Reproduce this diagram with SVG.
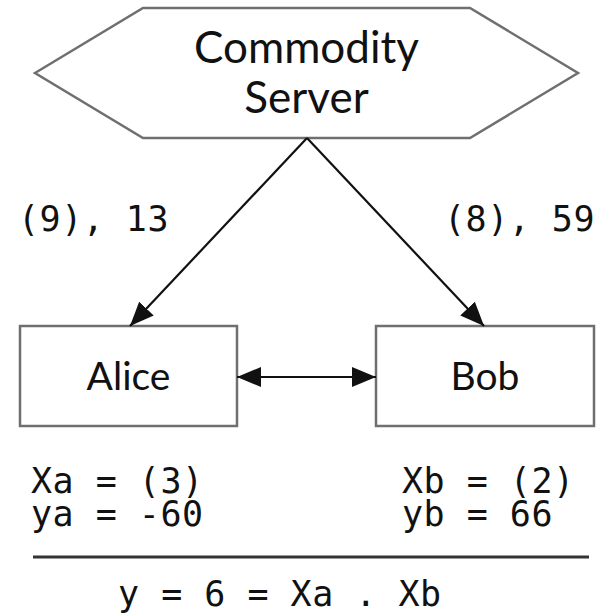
<svg xmlns="http://www.w3.org/2000/svg" width="604" height="614" viewBox="0 0 604 614">
  <style>
    .shape { fill: #ffffff; stroke: #6f6f6f; stroke-width: 2.5; }
    .label { font-family: Lato, "Open Sans", "Liberation Sans", sans-serif; font-weight: 400; fill: #111111; text-anchor: middle; }
    .mono { font-family: "DejaVu Sans Mono", "Liberation Mono", monospace; font-size: 35px; letter-spacing: 0.5px; fill: #111111; }
    .conn { stroke: #111111; stroke-width: 2.2; fill: none; }
  </style>
  <defs>
    <marker id="arrow" markerUnits="userSpaceOnUse" markerWidth="26" markerHeight="22" refX="24" refY="10" orient="auto-start-reverse" viewBox="0 0 26 22">
      <path d="M0,0 L24,10 L0,20 z" fill="#111111"/>
    </marker>
  </defs>
  <rect width="604" height="614" fill="#ffffff"/>

  <g id="server">
    <polygon class="shape" points="35,73 143,8 470,8 578,73 470,138 143,138"/>
    <text class="label" x="306.5" y="63" font-size="44">Commodity</text>
    <text class="label" x="306.5" y="113" font-size="44">Server</text>
  </g>

  <g id="alice">
    <rect class="shape" x="20" y="326" width="217" height="100"/>
    <text class="label" x="128.5" y="390" font-size="39">Alice</text>
  </g>

  <g id="bob">
    <rect class="shape" x="376" y="326" width="218" height="100"/>
    <text class="label" x="485" y="390" font-size="39">Bob</text>
  </g>

  <g id="connectors">
    <line class="conn" x1="307" y1="138" x2="130" y2="326" marker-end="url(#arrow)"/>
    <line class="conn" x1="307" y1="138" x2="484" y2="326" marker-end="url(#arrow)"/>
    <line class="conn" x1="237" y1="377" x2="376" y2="377" marker-start="url(#arrow)" marker-end="url(#arrow)"/>
  </g>

  <g id="labels">
    <text class="mono" x="18" y="231">(9), 13</text>
    <text class="mono" x="444" y="231">(8), 59</text>
    <text class="mono"><tspan x="31" y="493">Xa = (3)</tspan><tspan x="31" y="526">ya = -60</tspan></text>
    <text class="mono"><tspan x="402" y="493">Xb = (2)</tspan><tspan x="402" y="526">yb = 66</tspan></text>
    <line x1="33" y1="557" x2="589" y2="557" stroke="#333333" stroke-width="3"/>
    <text class="mono" x="118" y="606">y = 6 = Xa . Xb</text>
  </g>
</svg>
